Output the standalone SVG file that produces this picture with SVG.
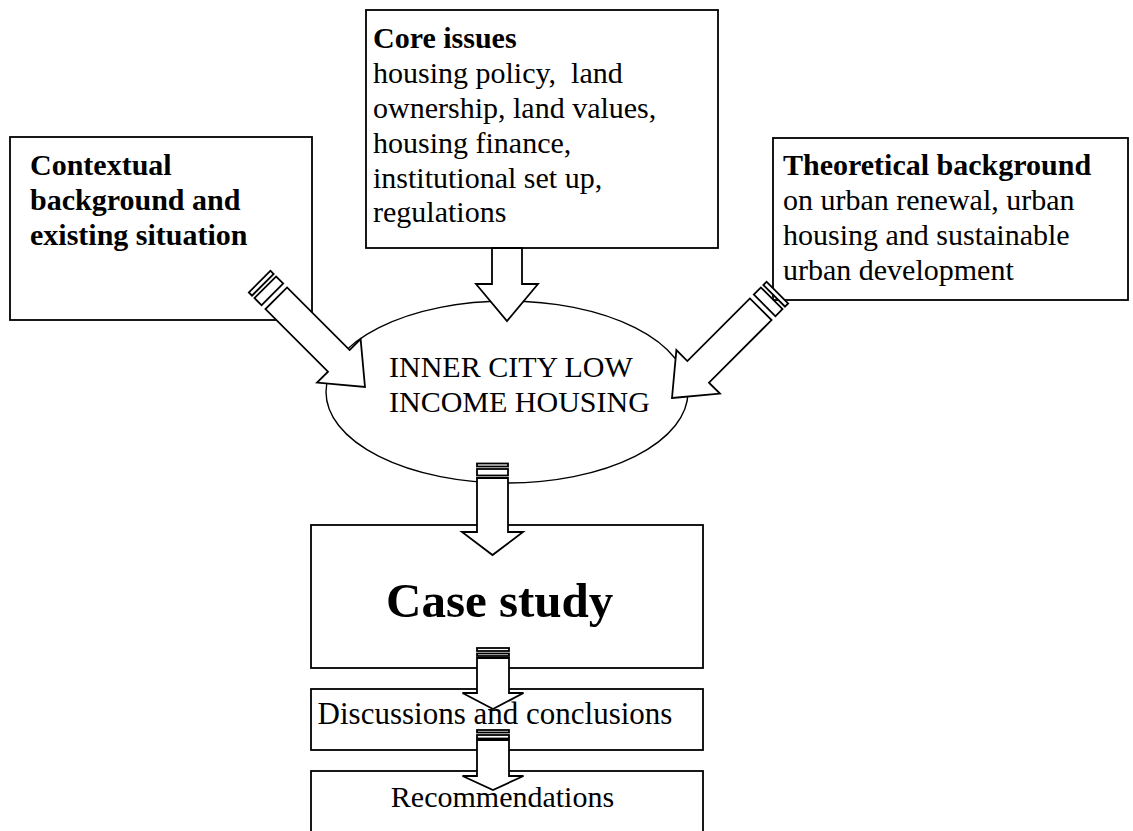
<svg xmlns="http://www.w3.org/2000/svg" width="1133" height="831" viewBox="0 0 1133 831">
<style>
.box{fill:#fff;stroke:#000;stroke-width:1.8}
.ell{fill:#fff;stroke:#000;stroke-width:1.4}
.arr{fill:#fff;stroke:#000;stroke-width:1.8;stroke-linejoin:miter}
text{font-family:"Liberation Serif","Times New Roman",serif;font-size:30px;fill:#000;white-space:pre}
.b{font-weight:bold}
</style>
<defs>
<g id="diag">
<polygon class="arr" points="0,0 -37,-30.8 -37,-15.3 -125.5,-15.3 -125.5,15.3 -37,15.3 -37,30.8"/>
<rect class="arr" x="-141" y="-15.3" width="10" height="30.6"/>
<rect class="arr" x="-149" y="-15.3" width="4.5" height="30.6"/>
</g>
</defs>
<rect width="1133" height="831" fill="#fff"/>
<g id="core">
<rect class="box" x="366" y="10" width="352" height="238"/>
<text x="373" y="48" class="b">Core issues</text>
<text x="373" y="83" xml:space="preserve">housing policy,  land</text>
<text x="373" y="118">ownership, land values,</text>
<text x="373" y="153">housing finance,</text>
<text x="373" y="188">institutional set up,</text>
<text x="373" y="222">regulations</text>
</g>
<g id="contextual">
<rect class="box" x="10" y="137" width="302" height="183"/>
<text x="30" y="175" class="b">Contextual</text>
<text x="30" y="210" class="b">background and</text>
<text x="30" y="245" class="b">existing situation</text>
</g>
<g id="theoretical">
<rect class="box" x="773" y="138" width="355" height="162"/>
<text x="783" y="175" class="b">Theoretical background</text>
<text x="783" y="210">on urban renewal, urban</text>
<text x="783" y="245">housing and sustainable</text>
<text x="783" y="280">urban development</text>
</g>
<g id="housing">
<ellipse class="ell" cx="507" cy="392" rx="181" ry="91"/>
<text x="389" y="377">INNER CITY LOW</text>
<text x="389" y="412">INCOME HOUSING</text>
</g>
<g id="case">
<rect class="box" x="311" y="525" width="392" height="143"/>
<text x="386" y="617" class="b" style="font-size:49px">Case study</text>
</g>
<g id="discussions">
<rect class="box" x="311" y="689" width="392" height="61"/>
<text x="495" y="724" text-anchor="middle" style="font-size:31px">Discussions and conclusions</text>
</g>
<g id="recommendations">
<rect class="box" x="311" y="771" width="392" height="80"/>
<text x="502.5" y="807" text-anchor="middle">Recommendations</text>
</g>
<g id="connectors">
<polygon class="arr" points="492,248 522,248 522,284 538,284 507,321 476,284 492,284"/>
<use href="#diag" transform="translate(365,387) rotate(45)"/>
<use href="#diag" transform="translate(672,398) rotate(135)"/>
<rect class="arr" x="477" y="463.5" width="31" height="3"/>
<rect class="arr" x="477" y="469" width="31" height="6.5"/>
<polygon class="arr" points="477,478 508,478 508,532 523,532 492.5,555 462,532 477,532"/>
<rect class="arr" x="477" y="648" width="32" height="3"/>
<rect class="arr" x="477" y="653.5" width="32" height="2.5"/>
<polygon class="arr" points="477,658 509,658 509,693 523.5,693 493,709 462.5,693 477,693"/>
<rect class="arr" x="477" y="730" width="32" height="2.5"/>
<rect class="arr" x="477" y="735" width="32" height="3.5"/>
<polygon class="arr" points="477,740 509,740 509,776 523.5,776 493,790 462.5,776 477,776"/>
</g>
</svg>
